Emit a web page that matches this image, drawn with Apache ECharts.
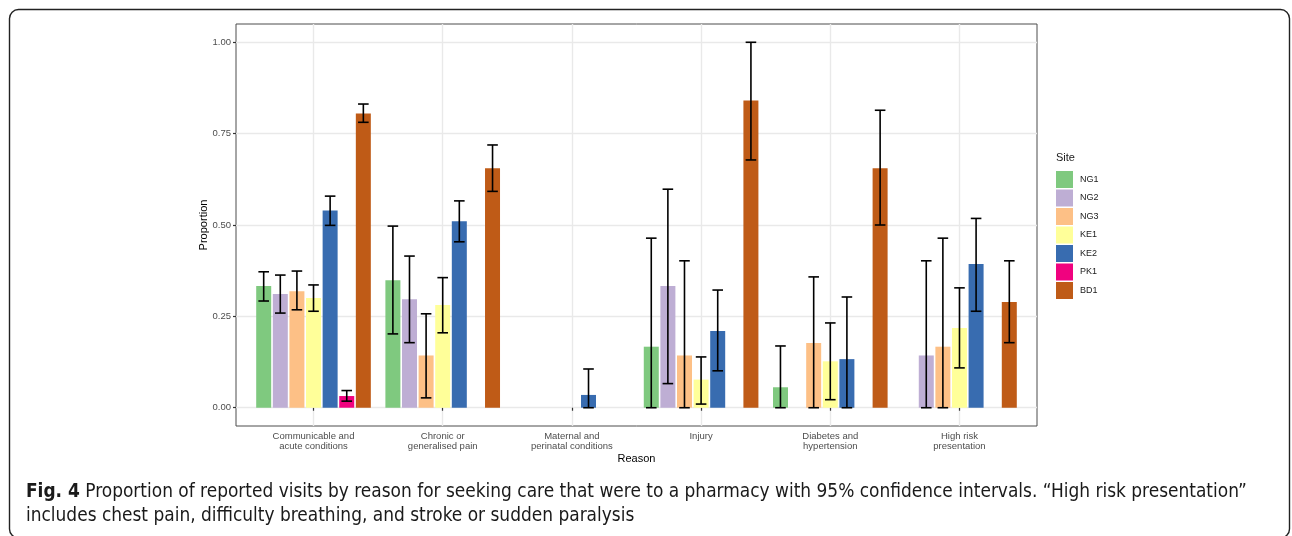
<!DOCTYPE html>
<html>
<head>
<meta charset="utf-8">
<script src="https://cdn.jsdelivr.net/npm/echarts@6/dist/echarts.min.js"></script>
<style>
html,body{margin:0;padding:0;background:#fff;}
#chart{width:1292px;height:536px;}
</style>
</head>
<body>
<div id="chart"></div>
<script>
// ---- Data ----
const categories = [
  'Communicable and\nacute conditions',
  'Chronic or\ngeneralised pain',
  'Maternal and\nperinatal conditions',
  'Injury',
  'Diabetes and\nhypertension',
  'High risk\npresentation'
];
const sites = ['NG1', 'NG2', 'NG3', 'KE1', 'KE2', 'PK1', 'BD1'];
const siteColors = ['#7FC97F', '#BEAED4', '#FDC086', '#FFFF99', '#386CB0', '#F0027F', '#BF5B17'];
const yTicks = [0, 0.25, 0.5, 0.75, 1.0];

// proportion per site (rows) by reason (columns)
const proportion = [
  [0.333, 0.349, 0,     0.167, 0.056, 0    ], // NG1
  [0.311, 0.297, 0,     0.333, 0,     0.143], // NG2
  [0.319, 0.143, 0,     0.143, 0.177, 0.167], // NG3
  [0.300, 0.281, 0,     0.077, 0.127, 0.218], // KE1
  [0.540, 0.510, 0.035, 0.210, 0.133, 0.393], // KE2
  [0.032, 0,     0,     0,     0,     0    ], // PK1
  [0.805, 0.655, 0,     0.841, 0.655, 0.289]  // BD1
];
// 95% CI lower bounds (null = no interval drawn)
const ciLower = [
  [0.292, 0.202, null,  0,     0,     null ], // NG1
  [0.259, 0.178, null,  0.066, null,  0    ], // NG2
  [0.268, 0.027, null,  0,     0,     0    ], // NG3
  [0.264, 0.205, null,  0.010, 0.022, 0.109], // KE1
  [0.499, 0.454, 0,     0.101, 0,     0.264], // KE2
  [0.018, null,  null,  null,  null,  null ], // PK1
  [0.781, 0.592, null,  0.678, 0.500, 0.178]  // BD1
];
// 95% CI upper bounds
const ciUpper = [
  [0.372, 0.497, null,  0.464, 0.169, null ], // NG1
  [0.363, 0.415, null,  0.598, null,  0.402], // NG2
  [0.374, 0.257, null,  0.402, 0.358, 0.464], // NG3
  [0.336, 0.356, null,  0.139, 0.232, 0.328], // KE1
  [0.579, 0.566, 0.106, 0.322, 0.303, 0.518], // KE2
  [0.047, null,  null,  null,  null,  null ], // PK1
  [0.831, 0.719, null,  1.000, 0.814, 0.402]  // BD1
];

const captionBold = 'Fig. 4';
const captionLine1 = ' Proportion of reported visits by reason for seeking care that were to a pharmacy with 95% confidence intervals. \u201cHigh risk presentation\u201d';
const captionLine2 = 'includes chest pain, difficulty breathing, and stroke or sudden paralysis';

// ---- Build ----
const FONT = 'Liberation Sans, Arial, Helvetica, sans-serif';
const CAP_FONT = 'DejaVu Sans Condensed, Liberation Sans Narrow, Noto Sans, sans-serif';
const catPos = categories.map((c, i) => i + 1);
const dodge = 0.9 / sites.length;

// fit caption first line to the reference width
function capSize() {
  const ctx = document.createElement('canvas').getContext('2d');
  const base = 18;
  ctx.font = 'bold ' + base + 'px ' + CAP_FONT;
  let w = ctx.measureText(captionBold).width;
  ctx.font = base + 'px ' + CAP_FONT;
  w += ctx.measureText(captionLine1).width;
  const s = base * 1221 / w;
  return Math.max(15, Math.min(20, s));
}
const CAP_SIZE = capSize();

const barSeries = sites.map((s, si) => ({
  type: 'bar',
  name: s,
  data: proportion[si].map((v, ci) => [catPos[ci], v]),
  barWidth: 15,
  barGap: '10.7%',
  itemStyle: { color: siteColors[si] },
  emphasis: { disabled: true },
  z: 2
}));

const ciData = [];
sites.forEach((s, si) => {
  categories.forEach((c, ci) => {
    if (ciLower[si][ci] !== null && ciUpper[si][ci] !== null) {
      ciData.push([catPos[ci], ciLower[si][ci], ciUpper[si][ci], si]);
    }
  });
});

const errorSeries = {
  type: 'custom',
  name: 'ci',
  data: ciData,
  encode: { x: 0, y: [1, 2] },
  z: 5,
  silent: true,
  renderItem: function (params, api) {
    const x = api.value(0) + (api.value(3) - (sites.length - 1) / 2) * dodge;
    const lo = api.coord([x, api.value(1)]);
    const hi = api.coord([x, api.value(2)]);
    const hw = 5.3;
    const st = { stroke: '#000', lineWidth: 1.6 };
    return {
      type: 'group',
      children: [
        { type: 'line', shape: { x1: lo[0], y1: lo[1], x2: hi[0], y2: hi[1] }, style: st },
        { type: 'line', shape: { x1: hi[0] - hw, y1: hi[1], x2: hi[0] + hw, y2: hi[1] }, style: st },
        { type: 'line', shape: { x1: lo[0] - hw, y1: lo[1], x2: lo[0] + hw, y2: lo[1] }, style: st }
      ]
    };
  }
};

const chart = echarts.init(document.getElementById('chart'), null, { renderer: 'canvas' });
chart.setOption({
  animation: false,
  backgroundColor: '#fff',
  textStyle: { fontFamily: FONT },
  grid: {
    left: 236, top: 24, width: 801, height: 402,
    show: true, borderColor: '#4d4d4d', borderWidth: 1, backgroundColor: 'transparent'
  },
  legend: {
    data: sites,
    orient: 'vertical',
    left: 1056, top: 171,
    itemWidth: 17, itemHeight: 17, itemGap: 1.5,
    icon: 'rect',
    padding: 0,
    selectedMode: false,
    textStyle: { fontFamily: FONT, fontSize: 9, color: '#1a1a1a', padding: [0, 0, 0, 2] }
  },
  title: {
    text: 'Site', left: 1056, top: 152, padding: 0,
    textStyle: { fontFamily: FONT, fontSize: 11, fontWeight: 'normal', color: '#1a1a1a' }
  },
  xAxis: {
    type: 'value',
    min: 0.4, max: 6.6,
    name: 'Reason',
    nameLocation: 'middle',
    nameGap: 27,
    nameMoveOverlap: false,
    nameTextStyle: { fontFamily: FONT, fontSize: 11, color: '#000' },
    axisLine: { show: false },
    axisTick: { show: true, length: 3, customValues: catPos, lineStyle: { color: '#333', width: 1.2 } },
    axisLabel: {
      customValues: catPos,
      margin: 5,
      fontSize: 9.5, lineHeight: 10.5, color: '#4d4d4d', fontFamily: FONT,
      formatter: function (v) { return categories[Math.round(v) - 1] || ''; }
    },
    splitLine: { show: true, lineStyle: { color: '#e9e9e9', width: 1.4 } }
  },
  yAxis: {
    type: 'value',
    min: -0.05, max: 1.05,
    name: 'Proportion',
    nameLocation: 'middle',
    nameGap: 27,
    nameMoveOverlap: false,
    nameRotate: 90,
    nameTextStyle: { fontFamily: FONT, fontSize: 11, color: '#000' },
    axisLine: { show: false },
    axisTick: { show: true, length: 3, customValues: yTicks, lineStyle: { color: '#333', width: 1.2 } },
    axisLabel: {
      customValues: yTicks,
      margin: 5,
      fontSize: 9.5, color: '#4d4d4d', fontFamily: FONT,
      formatter: function (v) { return v.toFixed(2); }
    },
    splitLine: { show: true, lineStyle: { color: '#e9e9e9', width: 1.4 } }
  },
  series: barSeries.concat([errorSeries]),
  graphic: [
    {
      type: 'rect',
      shape: { x: 9.5, y: 9.5, width: 1280, height: 528.5, r: 9 },
      style: { fill: 'none', stroke: '#222', lineWidth: 1.4 },
      silent: true
    },
    {
      type: 'text',
      x: 26, y: 492,
      style: {
        text: '{b|' + captionBold + '}{r|' + captionLine1 + '}',
        verticalAlign: 'middle',
        rich: {
          b: { fontFamily: CAP_FONT, fontWeight: 'bold', fontSize: CAP_SIZE, fill: '#1a1a1a' },
          r: { fontFamily: CAP_FONT, fontSize: CAP_SIZE, fill: '#1a1a1a' }
        }
      }
    },
    {
      type: 'text',
      x: 26, y: 516,
      style: {
        text: captionLine2,
        verticalAlign: 'middle',
        fontFamily: CAP_FONT,
        fontSize: CAP_SIZE, fill: '#1a1a1a'
      }
    }
  ]
});
</script>
</body>
</html>
